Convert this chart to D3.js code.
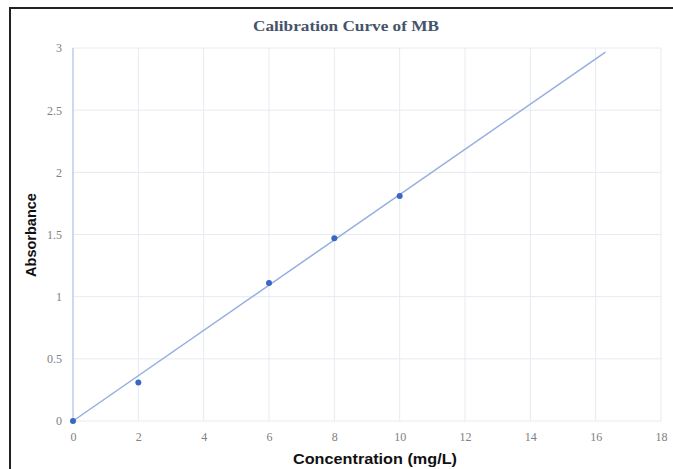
<!DOCTYPE html>
<html>
<head>
<meta charset="utf-8">
<script src="https://cdn.jsdelivr.net/npm/d3@7"></script>
<style>
  body { margin: 0; background: #fff; }
  svg { display: block; }
</style>
</head>
<body>
<div id="main"></div>
<script>
const ctx = {
    w: 673,
    h: 469
};

// measured points
const concentration = [0, 2, 6, 8, 10];
const absorbance = [0, 0.31, 1.11, 1.47, 1.81];
// trendline (through origin), x range
const trendX = [0, 16.3];
const xTicks = [0, 2, 4, 6, 8, 10, 12, 14, 16, 18];
const yTicks = [0, 0.5, 1, 1.5, 2, 2.5, 3];

function createViz() {
    let svgEl = d3.select("#main").append("svg")
        .attr("width", ctx.w)
        .attr("height", ctx.h);

    // frame of the pasted figure
    svgEl.append("path")
        .attr("d", "M10,475 L10,8 L680,8")
        .attr("fill", "none")
        .attr("stroke", "#222")
        .attr("stroke-width", 2);

    let xScale = d3.scaleLinear().domain([0, 18]).range([73, 661]);
    let yScale = d3.scaleLinear().domain([0, 3]).range([421, 48]);

    // slope of least squares line through origin
    let sxy = d3.sum(concentration, (c, i) => c * absorbance[i]);
    let sxx = d3.sum(concentration, (c) => c * c);
    let slope = sxy / sxx;

    let gridG = svgEl.append("g").attr("id", "gridG");
    gridG.selectAll("line.v")
        .data(xTicks)
        .enter()
        .append("line")
            .attr("class", "v")
            .attr("x1", (d) => xScale(d))
            .attr("x2", (d) => xScale(d))
            .attr("y1", yScale(0))
            .attr("y2", yScale(3))
            .attr("stroke", "#e6eaf2")
            .attr("stroke-width", 1);
    gridG.selectAll("line.h")
        .data(yTicks)
        .enter()
        .append("line")
            .attr("class", "h")
            .attr("x1", xScale(0))
            .attr("x2", xScale(18))
            .attr("y1", (d) => yScale(d))
            .attr("y2", (d) => yScale(d))
            .attr("stroke", "#e6eaf2")
            .attr("stroke-width", 1);
    // vertical axis line
    gridG.append("line")
        .attr("x1", xScale(0))
        .attr("x2", xScale(0))
        .attr("y1", yScale(0))
        .attr("y2", yScale(3))
        .attr("stroke", "#a8bbe3")
        .attr("stroke-width", 1);

    // axes, tick labels only
    let fmt = d3.format("~g");
    let xAxis = d3.axisBottom(xScale).tickValues(xTicks).tickFormat(fmt).tickSize(0).tickPadding(11);
    svgEl.append("g")
        .attr("transform", "translate(0," + yScale(0) + ")")
        .call(xAxis)
        .call((g) => g.select(".domain").remove());
    let yAxis = d3.axisLeft(yScale).tickValues(yTicks).tickFormat(fmt).tickSize(0).tickPadding(11);
    svgEl.append("g")
        .attr("transform", "translate(" + xScale(0) + ",0)")
        .call(yAxis)
        .call((g) => g.select(".domain").remove());
    svgEl.selectAll(".tick text")
        .attr("font-family", "'Liberation Serif', 'Times New Roman', serif")
        .attr("font-size", 12)
        .attr("fill", "#808080");

    // trendline
    svgEl.append("line")
        .attr("x1", xScale(trendX[0]))
        .attr("y1", yScale(trendX[0] * slope))
        .attr("x2", xScale(trendX[1]))
        .attr("y2", yScale(trendX[1] * slope))
        .attr("stroke", "#94aee0")
        .attr("stroke-width", 1.5);

    // points
    svgEl.selectAll("circle")
        .data(concentration)
        .enter()
        .append("circle")
            .attr("cx", (d) => xScale(d))
            .attr("cy", (d, i) => yScale(absorbance[i]))
            .attr("r", 3)
            .attr("fill", "#3a66c4");

    // title and axis labels (the picture is a bit stretched sideways)
    svgEl.append("text")
        .attr("x", 346)
        .attr("y", 31)
        .attr("text-anchor", "middle")
        .attr("font-family", "'Liberation Serif', 'Times New Roman', serif")
        .attr("font-weight", "bold")
        .attr("font-size", 15)
        .attr("textLength", 186)
        .attr("lengthAdjust", "spacingAndGlyphs")
        .attr("fill", "#44546a")
        .text("Calibration Curve of MB");
    svgEl.append("text")
        .attr("x", 375)
        .attr("y", 464)
        .attr("text-anchor", "middle")
        .attr("font-family", "'Liberation Sans', Arial, sans-serif")
        .attr("font-weight", "bold")
        .attr("font-size", 14.5)
        .attr("textLength", 164)
        .attr("lengthAdjust", "spacingAndGlyphs")
        .attr("fill", "#111")
        .text("Concentration (mg/L)");
    svgEl.append("text")
        .attr("transform", "translate(36,235) rotate(-90)")
        .attr("text-anchor", "middle")
        .attr("font-family", "'Liberation Sans', Arial, sans-serif")
        .attr("font-weight", "bold")
        .attr("font-size", 14.5)
        .attr("fill", "#111")
        .text("Absorbance");
}

createViz();
</script>
</body>
</html>
